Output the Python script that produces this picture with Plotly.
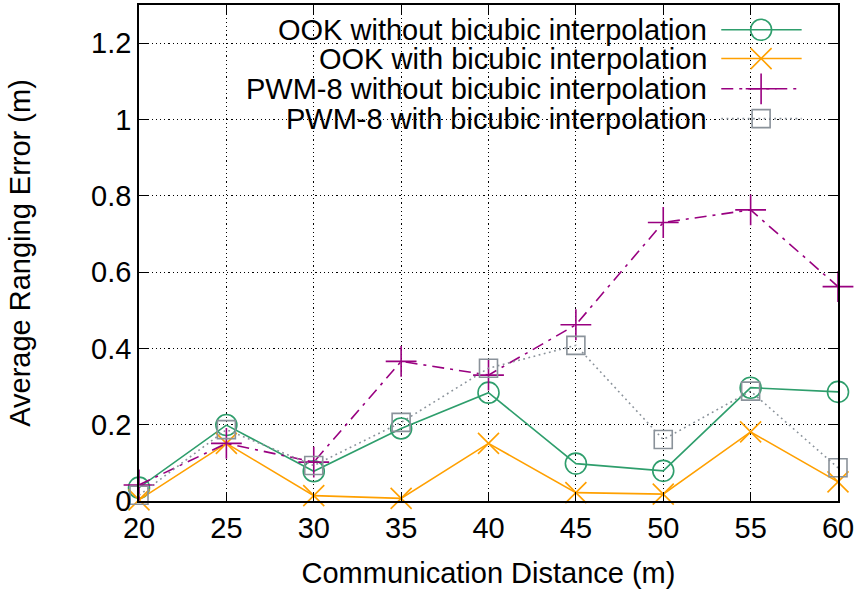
import plotly.graph_objects as go

distance = [20, 25, 30, 35, 40, 45, 50, 55, 60]
ook_without = [0.035, 0.199, 0.078, 0.190, 0.284, 0.098, 0.079, 0.297, 0.286]
ook_with = [0.003, 0.151, 0.014, 0.007, 0.151, 0.022, 0.018, 0.181, 0.050]
pwm_without = [0.042, 0.151, 0.102, 0.366, 0.330, 0.462, 0.730, 0.763, 0.562]
pwm_with = [0.015, 0.187, 0.093, 0.206, 0.348, 0.408, 0.161, 0.288, 0.087]

series_names = [
    "OOK without bicubic interpolation",
    "OOK with bicubic interpolation",
    "PWM-8 without bicubic interpolation",
    "PWM-8 with bicubic interpolation",
]
series_values = [ook_without, ook_with, pwm_without, pwm_with]

y_tickvals = [0, 0.2, 0.4, 0.6, 0.8, 1.0, 1.2]
y_ticktext = ["0", "0.2", "0.4", "0.6", "0.8", "1", "1.2"]

colors = ["#2e9e6c", "#ffa000", "#990080", "#8a929a"]
dashes = ["solid", "solid", "12px,6px,3px,6px", "1.8px,3.5px"]
symbols = ["circle-open", "x-thin-open", "cross-thin-open", "square-open"]
sizes = [21, 21, 22, 18]

FONT = "Liberation Sans, Arial, Helvetica, sans-serif"
FS = 29

fig = go.Figure()
for name, vals, c, d, s, sz in zip(series_names, series_values, colors, dashes, symbols, sizes):
    fig.add_trace(go.Scatter(
        x=distance, y=vals, name=name, mode="lines+markers",
        line=dict(color=c, width=1.6, dash=d),
        marker=dict(symbol=s, size=sz, color=c, line=dict(color=c, width=1.6)),
        showlegend=False, cliponaxis=False,
    ))

# manual legend (text right-aligned, sample on the right, like gnuplot)
leg_rows = [0.950, 0.892, 0.831, 0.771]
leg_text_x = 0.816
leg_x0, leg_x1, leg_xm = 0.833, 0.948, 0.890
for i, (name, c, d, s, sz) in enumerate(zip(series_names, colors, dashes, symbols, sizes)):
    yy = leg_rows[i]
    fig.add_annotation(xref="paper", yref="paper", x=leg_text_x, y=yy, text=name,
                       showarrow=False, xanchor="right", yanchor="middle",
                       font=dict(family=FONT, size=FS, color="black"))
    fig.add_shape(type="line", xref="paper", yref="paper", x0=leg_x0, x1=leg_x1, y0=yy, y1=yy,
                  line=dict(color=c, width=1.6, dash=d))
    fig.add_trace(go.Scatter(
        x=[leg_xm], y=[yy], xaxis="x2", yaxis="y2", mode="markers",
        marker=dict(symbol=s, size=sz, color=c, line=dict(color=c, width=1.6)),
        showlegend=False, hoverinfo="skip",
    ))

axis_common = dict(
    showline=True, linecolor="black", linewidth=1.5, mirror="ticks",
    ticks="inside", ticklen=9, tickwidth=1, tickcolor="black",
    showgrid=True, gridcolor="black", gridwidth=1.2, griddash="1.2px,3px",
    zeroline=False,
    tickfont=dict(family=FONT, size=FS, color="black"),
)

fig.update_layout(
    width=858, height=592,
    margin=dict(l=139, r=20, t=3, b=91),
    paper_bgcolor="white", plot_bgcolor="white",
    xaxis=dict(range=[20, 60], tickvals=distance, **axis_common,
               title=dict(text="Communication Distance (m)", font=dict(family=FONT, size=FS, color="black"), standoff=20)),
    yaxis=dict(range=[0, 1.3], tickvals=y_tickvals, ticktext=y_ticktext, **axis_common,
               title=dict(text="Average Ranging Error (m)", font=dict(family=FONT, size=FS, color="black"), standoff=52)),
    xaxis2=dict(range=[0, 1], overlaying="x", visible=False, domain=[0, 1]),
    yaxis2=dict(range=[0, 1], overlaying="y", visible=False, anchor="x2"),
    showlegend=False,
)

fig.write_html("out.html")
